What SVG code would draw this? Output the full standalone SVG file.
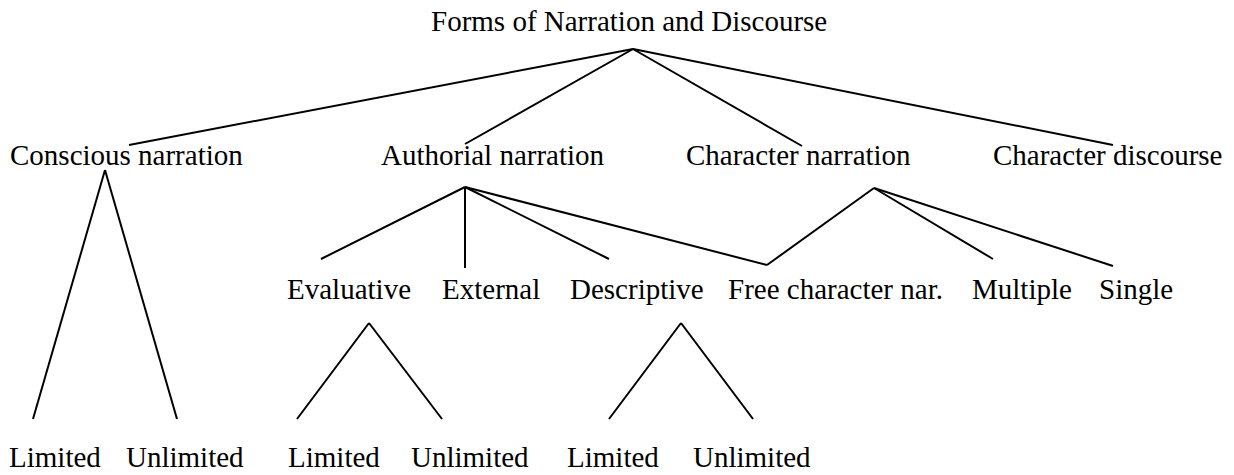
<svg xmlns="http://www.w3.org/2000/svg" width="1234" height="475" viewBox="0 0 1234 475">
<style>
text{font-family:'Liberation Serif','Times New Roman',Times,'Nimbus Roman','DejaVu Serif',serif;font-size:29px;fill:#000}
.c line{stroke:#000;stroke-width:2;stroke-linecap:butt}
</style>
<rect width="1234" height="475" fill="#fff"/>
<g class="c" id="connectors">
<line x1="633" y1="49" x2="129" y2="145"/>
<line x1="633" y1="49" x2="465" y2="144"/>
<line x1="633" y1="49" x2="802" y2="146"/>
<line x1="633" y1="49" x2="1113" y2="145"/>
<line x1="105" y1="170" x2="33" y2="419"/>
<line x1="105" y1="170" x2="177" y2="419"/>
<line x1="465" y1="187" x2="321" y2="259"/>
<line x1="465" y1="187" x2="465" y2="268"/>
<line x1="465" y1="187" x2="609" y2="259"/>
<line x1="465" y1="187" x2="767" y2="265"/>
<line x1="874" y1="188" x2="767" y2="265"/>
<line x1="874" y1="188" x2="993" y2="259"/>
<line x1="874" y1="188" x2="1113" y2="266"/>
<line x1="369" y1="323" x2="297" y2="419"/>
<line x1="369" y1="323" x2="442" y2="419"/>
<line x1="681" y1="323" x2="609" y2="419"/>
<line x1="681" y1="323" x2="753" y2="419"/>
</g>
<g font-family="Liberation Serif, serif">
<g id="root"><text x="431" y="31">Forms of Narration and Discourse</text></g>
<g id="conscious"><text x="10" y="165">Conscious narration</text></g>
<g id="authorial"><text x="381" y="165">Authorial narration</text></g>
<g id="character-narration"><text x="686" y="165">Character narration</text></g>
<g id="character-discourse"><text x="993" y="165">Character discourse</text></g>
<g id="evaluative"><text x="287" y="299">Evaluative</text></g>
<g id="external"><text x="442" y="299">External</text></g>
<g id="descriptive"><text x="570" y="299">Descriptive</text></g>
<g id="free"><text x="728" y="299">Free character nar.</text></g>
<g id="multiple"><text x="972" y="299">Multiple</text></g>
<g id="single"><text x="1099" y="299">Single</text></g>
<g id="c-limited"><text x="9" y="467">Limited</text></g>
<g id="c-unlimited"><text x="126" y="467">Unlimited</text></g>
<g id="e-limited"><text x="288" y="467">Limited</text></g>
<g id="e-unlimited"><text x="411" y="467">Unlimited</text></g>
<g id="d-limited"><text x="567" y="467">Limited</text></g>
<g id="d-unlimited"><text x="693" y="467">Unlimited</text></g>
</g>
</svg>
